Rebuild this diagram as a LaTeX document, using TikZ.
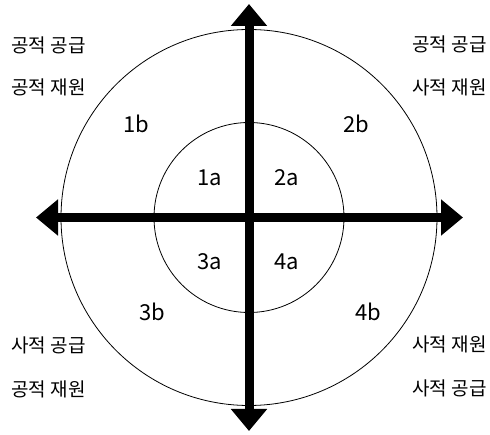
\documentclass[tikz,border=0pt]{standalone}
\usepackage{fontspec}
\setmainfont{Noto Sans CJK KR}
\usetikzlibrary{arrows.meta}
\begin{document}
\begin{tikzpicture}[x=1pt,y=-1pt,
  axis/.style={line width=9pt,-{Triangle[length=22pt 0,width=35pt 0]}},
  ring/.style={draw,line width=0.8pt},
  num/.style={font=\fontsize{22}{26}\selectfont,inner sep=0pt},
  kor/.style={font=\fontsize{19}{23}\selectfont,inner sep=0pt}]
\useasboundingbox (0,0) rectangle (490,435);
\coordinate (c) at (249,217.5);
\coordinate (top) at (249,4);
\coordinate (bot) at (249,431);
\coordinate (lft) at (36,217.5);
\coordinate (rgt) at (463,217.5);
\draw[ring] (c) circle[radius=188];
\draw[ring] (c) circle[radius=95];
\draw[axis] (c) -- (top);
\draw[axis] (c) -- (bot);
\draw[axis] (c) -- (lft);
\draw[axis] (c) -- (rgt);
\node[num] (n1a) at (210,178) {1a};
\node[num] (n2a) at (287,178) {2a};
\node[num] (n3a) at (210,262) {3a};
\node[num] (n4a) at (287,262) {4a};
\node[num] (n1b) at (136,124) {1b};
\node[num] (n2b) at (356,124) {2b};
\node[num] (n3b) at (152,312) {3b};
\node[num] (n4b) at (368,312) {4b};
\node[kor] (tl1) at (48.5,45) {공적 공급};
\node[kor] (tl2) at (48.5,87) {공적 재원};
\node[kor] (tr1) at (449.5,44) {공적 공급};
\node[kor] (tr2) at (449.5,87) {사적 재원};
\node[kor] (bl1) at (48.5,345) {사적 공급};
\node[kor] (bl2) at (48.5,389) {공적 재원};
\node[kor] (br1) at (449.5,344) {사적 재원};
\node[kor] (br2) at (449.5,388) {사적 공급};
\end{tikzpicture}
\end{document}
